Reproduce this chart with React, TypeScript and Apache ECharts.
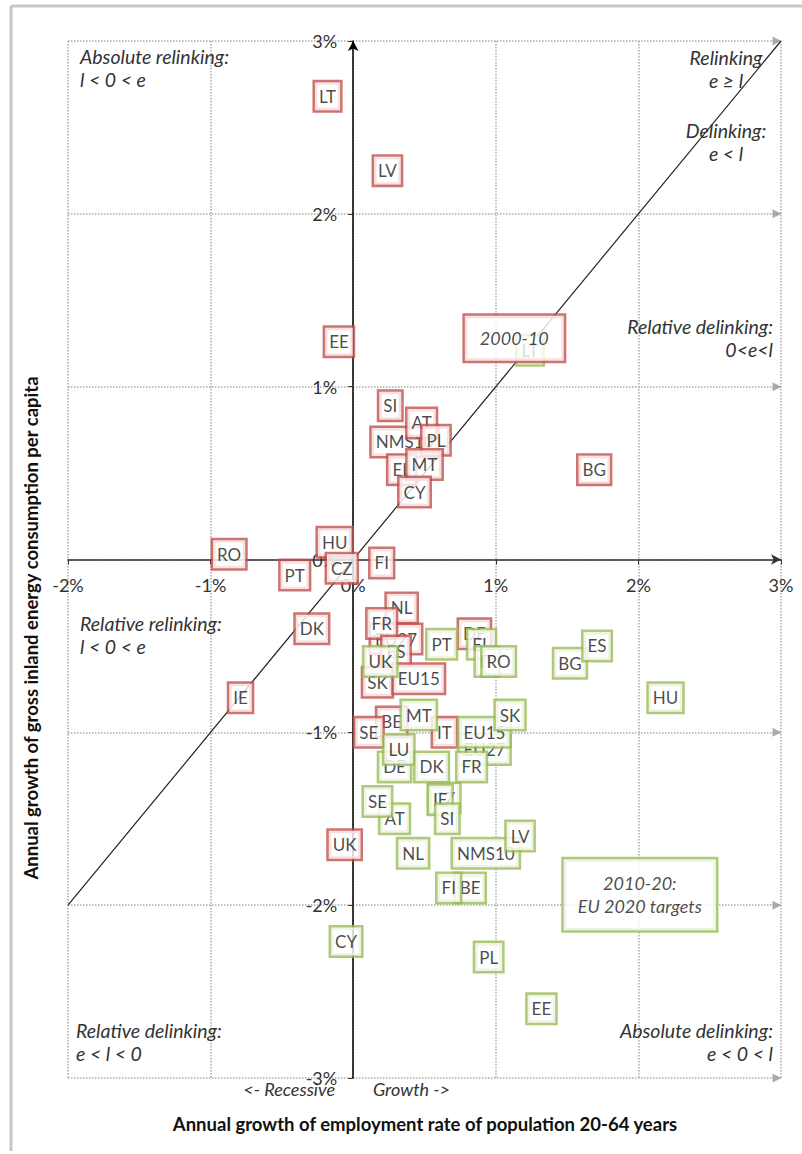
import React, { useEffect, useRef } from "react";
import * as echarts from "echarts";

const FONT = "Lato";

// tick values
const xTicks = [-2, -1, 0, 1, 2, 3];
const yTicks = [-3, -2, -1, 0, 1, 2, 3];
const gridArrowY = [-3, -2, -1, 1, 2, 3];

// 2000-10 observed (red)
const redNames = ["LT", "LV", "EE", "SI", "NMS10", "EL", "AT", "PL", "MT", "CY", "BG", "RO", "PT", "HU", "CZ", "FI", "DK", "IE", "DE", "NL", "EU27", "FR", "ES", "SK", "EU15", "BE", "SE", "IT", "UK"];
const redX = [-0.18, 0.24, -0.1, 0.26, 0.36, 0.34, 0.48, 0.58, 0.5, 0.43, 1.69, -0.87, -0.41, -0.13, -0.08, 0.2, -0.29, -0.79, 0.85, 0.34, 0.3, 0.2, 0.3, 0.17, 0.46, 0.27, 0.11, 0.64, -0.06];
const redY = [2.68, 2.25, 1.26, 0.89, 0.68, 0.52, 0.79, 0.69, 0.55, 0.39, 0.52, 0.03, -0.09, 0.1, -0.05, -0.02, -0.4, -0.8, -0.43, -0.28, -0.46, -0.37, -0.53, -0.71, -0.69, -0.94, -1.0, -1.0, -1.65];

// 2010-20 EU 2020 targets (green)
const greenNames = ["LT", "PT", "EL", "IT", "RO", "UK", "BG", "ES", "HU", "EU27", "EU15", "FR", "SK", "MT", "DE", "LU", "DK", "AT", "SE", "CZ", "IE", "SI", "NL", "NMS10", "LV", "BE", "FI", "CY", "PL", "EE"];
const greenX = [1.24, 0.62, 0.9, 0.94, 1.02, 0.19, 1.52, 1.71, 2.19, 0.92, 0.92, 0.83, 1.1, 0.46, 0.29, 0.32, 0.55, 0.29, 0.17, 0.64, 0.61, 0.66, 0.42, 0.93, 1.17, 0.82, 0.67, -0.05, 0.95, 1.32];
const greenY = [1.21, -0.49, -0.49, -0.59, -0.59, -0.59, -0.6, -0.5, -0.8, -1.1, -1.0, -1.2, -0.9, -0.9, -1.2, -1.1, -1.2, -1.5, -1.4, -1.38, -1.39, -1.5, -1.7, -1.7, -1.6, -1.9, -1.9, -2.21, -2.3, -2.6];

// diagonal e = l
const diagX = [-2, 3];
const diagY = [-2, 3];

// period annotation boxes (placed in data coordinates)
const annRed = { text: "2000-10", x: 1.13, y: 1.28 };
const annGreen = { text: "2010-20:\nEU 2020 targets", x: 2.01, y: -1.94 };

const RED = "#c0504d";
const GREEN = "#9bbb59";

function labelSeries(names: string[], xs: number[], ys: number[], color: string, z: number) {
  return {
    type: "scatter",
    z,
    silent: true,
    symbolSize: 1,
    itemStyle: { color: "rgba(0,0,0,0)" },
    emphasis: { disabled: true },
    data: names.map((n, i) => ({ name: n, value: [xs[i], ys[i]] })),
    label: {
      show: true,
      position: "inside",
      formatter: "{b}",
      backgroundColor: "#ffffff",
      borderColor: color,
      borderWidth: 2.5,
      padding: [5, 4, 4, 4],
      fontFamily: FONT,
      fontSize: 17,
      lineHeight: 19,
      color: "#1a1a1a",
    },
  };
}

function annSeries(a: { text: string; x: number; y: number }, color: string, pad: number[], z: number) {
  return {
    type: "scatter",
    z,
    silent: true,
    symbolSize: 1,
    itemStyle: { color: "rgba(0,0,0,0)" },
    emphasis: { disabled: true },
    data: [{ name: a.text, value: [a.x, a.y] }],
    label: {
      show: true,
      position: "inside",
      formatter: "{b}",
      backgroundColor: "#ffffff",
      borderColor: color,
      borderWidth: 2.5,
      padding: pad,
      fontFamily: FONT,
      fontStyle: "italic",
      fontSize: 18,
      lineHeight: 23,
      color: "#1a1a1a",
      align: "center",
    },
  };
}

function qText(text: string, x: number, y: number, align: string, vAlign = "top", size = 19.5) {
  return {
    type: "text",
    x,
    y,
    silent: true,
    z: 50,
    style: {
      text,
      font: `italic ${size}px ${FONT}`,
      fill: "#333",
      textAlign: align,
      textVerticalAlign: vAlign,
      lineHeight: 23,
    },
  };
}

export default function App() {
  const ref = useRef<HTMLDivElement>(null);
  useEffect(() => {
    if (!ref.current) return;
    const chart = echarts.init(ref.current, undefined, { renderer: "svg" });
    const axisLabel = {
      formatter: "{value}%",
      fontFamily: FONT,
      fontSize: 18,
      color: "#333",
      margin: 16,
    };
    const splitLine = { show: true, lineStyle: { type: "dotted", color: "#aaa", width: 1.5 } };
    chart.setOption({
      animation: false,
      backgroundColor: "#ffffff",
      grid: { left: 68, right: 21, top: 41, bottom: 76, containLabel: false, outerBoundsMode: "none" },
      xAxis: {
        type: "value",
        min: xTicks[0],
        max: xTicks[xTicks.length - 1],
        interval: 1,
        axisLine: { show: true, onZero: false, symbol: ["none", "arrow"], symbolSize: [8, 10], lineStyle: { color: "#333", width: 1.5 } },
        axisTick: { show: true, length: 5, lineStyle: { color: "#333" } },
        axisLabel,
        splitLine,
      },
      yAxis: {
        type: "value",
        min: yTicks[0],
        max: yTicks[yTicks.length - 1],
        interval: 1,
        axisLine: { show: true, onZero: false, symbol: ["none", "arrow"], symbolSize: [8, 10], lineStyle: { color: "#000", width: 1.5 } },
        axisTick: { show: true, length: 5, lineStyle: { color: "#333" } },
        axisLabel,
        splitLine,
      },
      series: [
        {
          type: "scatter",
          silent: true,
          z: 1,
          symbol: "triangle",
          symbolRotate: -90,
          symbolSize: [9, 9],
          symbolOffset: [-4, 0],
          itemStyle: { color: "#999" },
          data: gridArrowY.map((v) => [xTicks[xTicks.length - 1], v]),
        },
        {
          type: "line",
          silent: true,
          z: 2,
          symbol: "none",
          lineStyle: { color: "#222", width: 1.2 },
          data: diagX.map((v, i) => [v, diagY[i]]),
        },
        labelSeries(redNames, redX, redY, RED, 3),
        labelSeries(greenNames, greenX, greenY, GREEN, 4),
        annSeries(annRed, RED, [11, 15, 11, 15], 5),
        annSeries(annGreen, GREEN, [13, 14, 12, 14], 5),
      ],
      graphic: [
        { type: "line", silent: true, shape: { x1: 11, y1: 6, x2: 802, y2: 6 }, style: { stroke: "#c6c6c6", lineWidth: 3 } },
        { type: "line", silent: true, shape: { x1: 11, y1: 6, x2: 11, y2: 1151 }, style: { stroke: "#c6c6c6", lineWidth: 3 } },
        qText("Absolute relinking:\nl < 0 < e", 80, 45, "left"),
        qText("Relinking\ne \u2265 l", 726, 46, "center"),
        qText("Delinking:\ne < l", 726, 119, "center"),
        qText("Relative delinking:\n0<e<l", 773, 315, "right"),
        qText("Relative relinking:\nl < 0 < e", 80, 612, "left"),
        qText("Relative delinking:\ne < l < 0", 76, 1019, "left"),
        qText("Absolute delinking:\ne < 0 < l", 773, 1019, "right"),
        qText("<- Recessive", 335, 1089, "right", "middle", 18),
        qText("Growth ->", 373, 1089, "left", "middle", 18),
        {
          type: "text",
          silent: true,
          x: 425,
          y: 1124,
          style: {
            text: "Annual growth of employment rate of population 20-64 years",
            font: `bold 18.5px ${FONT}`,
            fill: "#111",
            textAlign: "center",
            textVerticalAlign: "middle",
          },
        },
        {
          type: "text",
          silent: true,
          x: 31,
          y: 628,
          rotation: Math.PI / 2,
          style: {
            text: "Annual growth of gross inland energy consumption per capita",
            font: `bold 18.5px ${FONT}`,
            fill: "#111",
            textAlign: "center",
            textVerticalAlign: "middle",
          },
        },
      ],
    });
    // move both axes (line, ticks and labels) onto the zero crossing
    const zero = chart.convertToPixel({ gridIndex: 0 }, [0, 0]) as number[];
    const corner = chart.convertToPixel({ gridIndex: 0 }, [xTicks[0], yTicks[0]]) as number[];
    chart.setOption({
      xAxis: { offset: -(corner[1] - zero[1]) },
      yAxis: { offset: -(zero[0] - corner[0]) },
    });
    return () => chart.dispose();
  }, []);
  return (
    <div
      ref={ref}
      style={{ position: "absolute", left: 0, top: 0, width: 802, height: 1154, background: "#fff" }}
    />
  );
}
